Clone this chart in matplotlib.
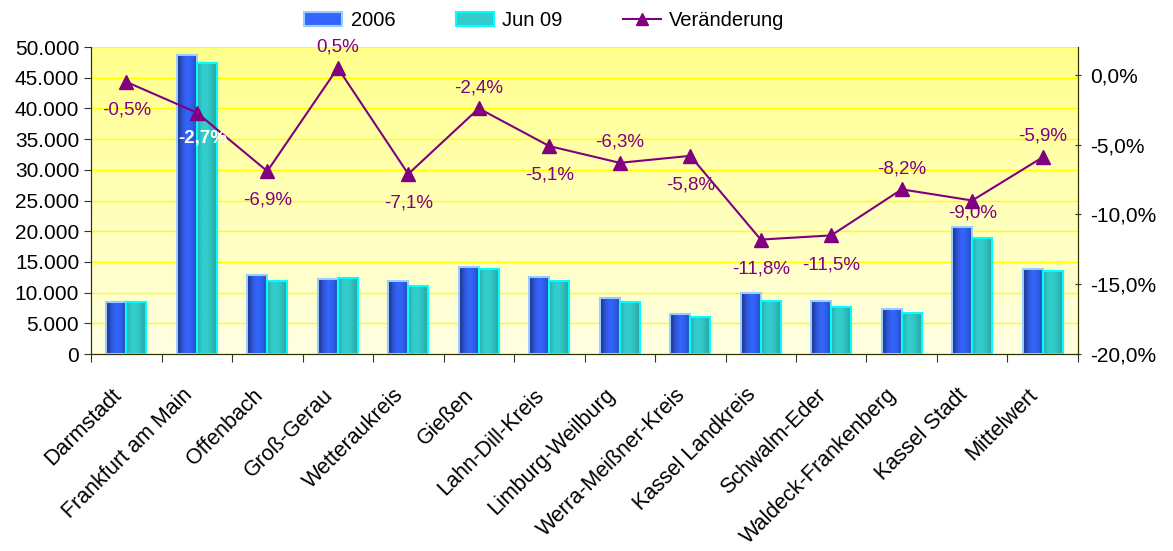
import matplotlib.pyplot as plt
from matplotlib.colors import LinearSegmentedColormap
from matplotlib.lines import Line2D
from matplotlib.patches import Patch
from matplotlib.ticker import FuncFormatter, FixedLocator, NullFormatter
import numpy as np

plt.rcParams['font.family'] = ['Liberation Sans', 'DejaVu Sans']

regions = ["Darmstadt", "Frankfurt am Main", "Offenbach", "Groß-Gerau",
           "Wetteraukreis", "Gießen", "Lahn-Dill-Kreis", "Limburg-Weilburg",
           "Werra-Meißner-Kreis", "Kassel Landkreis", "Schwalm-Eder",
           "Waldeck-Frankenberg", "Kassel Stadt", "Mittelwert"]
v2006 = [8450, 48700, 12800, 12250, 11900, 14200, 12500, 9070, 6460,
         9880, 8680, 7330, 20700, 13900]
vjun09 = [8410, 47380, 11920, 12310, 11060, 13860, 11860, 8500, 6090,
          8710, 7680, 6730, 18840, 13460]
change = [-0.5, -2.7, -6.9, 0.5, -7.1, -2.4, -5.1, -6.3, -5.8, -11.8,
          -11.5, -8.2, -9.0, -5.9]

# offset (points) of each percentage label relative to its marker
label_dx = [0, 4, 0, 0, 0, 0, 0, 0, 0, 0, 0, 0, 0, 0]
label_dy = [-20, -19, -21, 15, -21, 15, -21, 15, -21, -21, -21, 15, -9, 15]

PURPLE = "#800080"


def grad_bar(ax, x0, width, h, cmap, edge):
    """Bar with a horizontal colour gradient."""
    g = np.linspace(0, 1, 64).reshape(1, -1)
    ax.imshow(g, cmap=cmap, extent=(x0, x0 + width, 0, h), aspect='auto',
              zorder=2, interpolation='bilinear')
    ax.bar(x0, h, width=width, align='edge', facecolor='none',
           edgecolor=edge, linewidth=1.5, zorder=3)


def main():
    fig = plt.figure(figsize=(11.73, 5.51), dpi=100)
    ax = fig.add_axes([0.0776, 0.3575, 0.8414, 0.5572])
    ax2 = ax.twinx()

    # pale yellow background fading downwards
    bg = LinearSegmentedColormap.from_list("bg", ["#FFFFE2", "#FFFF8C"])
    ax.imshow(np.linspace(0, 1, 256).reshape(-1, 1), cmap=bg, origin='lower',
              extent=(0, 1, 0, 1), transform=ax.transAxes, aspect='auto',
              zorder=0)

    blue = LinearSegmentedColormap.from_list(
        "blue", ["#1A2E80", "#2E55D6", "#3366FF", "#2F5CE8", "#243F9E"])
    teal = LinearSegmentedColormap.from_list(
        "teal", ["#27A8A6", "#33CCCC", "#33CCCC", "#2EB8B6", "#279E9C"])

    x = np.arange(len(regions))
    w = 0.285
    for i in range(len(regions)):
        grad_bar(ax, x[i] - w, w, v2006[i], blue, "#99CCFF")
        grad_bar(ax, x[i], w, vjun09[i], teal, "#00FFFF")

    ax.set_xlim(-0.5, len(regions) - 0.5)
    ax.set_ylim(0, 50000)
    ax.set_yticks(np.arange(0, 50001, 5000))
    ax.yaxis.set_major_formatter(
        FuncFormatter(lambda v, p: f"{int(v):,}".replace(",", ".")))
    ax.grid(axis='y', color="#FFFF00", linewidth=1.0, zorder=1)
    ax.set_axisbelow(True)

    # ticks between categories, names written slanted below each pair
    ax.xaxis.set_major_locator(FixedLocator(np.arange(-0.5, len(regions), 1)))
    ax.xaxis.set_major_formatter(NullFormatter())
    ax.tick_params(axis='x', which='major', length=6, color="#333333")
    ax.tick_params(axis='y', labelsize=15, length=5, color="#333333")
    for xi, name in zip(x, regions):
        ax.annotate(name, (xi, 0), xycoords=('data', 'axes fraction'),
                    xytext=(-11, -22), textcoords='offset points',
                    ha='right', va='top', rotation=45,
                    rotation_mode='anchor', fontsize=15.5,
                    annotation_clip=False)

    ax2.plot(x, change, color=PURPLE, marker='^', markersize=10,
             linewidth=1.5, zorder=5)
    ax2.set_ylim(-20, 2)
    ax2.set_yticks(np.arange(-20, 0.1, 5))
    ax2.yaxis.set_major_formatter(
        FuncFormatter(lambda v, p: f"{v:.1f}%".replace(".", ",")))
    ax2.tick_params(axis='y', labelsize=15, length=5, direction='inout',
                    color="#333333", pad=6)

    for i, c in enumerate(change):
        txt = f"{c:.1f}%".replace(".", ",")
        kw = dict(color=PURPLE)
        if i == 1:
            kw = dict(color="white", fontweight='bold')
        ax2.annotate(txt, (x[i], c), xytext=(label_dx[i], label_dy[i]),
                     textcoords='offset points', ha='center', va='center',
                     fontsize=13.5, zorder=6, **kw)

    for a in (ax, ax2):
        for s in a.spines.values():
            s.set_color("#333300")
        a.spines['top'].set_visible(False)

    handles = [
        Patch(facecolor="#3366FF", edgecolor="#99CCFF", linewidth=1.5),
        Patch(facecolor="#33CCCC", edgecolor="#00FFFF", linewidth=1.5),
        Line2D([], [], color=PURPLE, marker='^', markersize=9, linewidth=1.5),
    ]
    fig.legend(handles, ["2006", "Jun 09", "Veränderung"], loc='center',
               bbox_to_anchor=(0.464, 0.962), ncol=3, frameon=False,
               fontsize=14.5, columnspacing=3.0, handlelength=1.9,
               handletextpad=0.4)

    fig.savefig("out.png", dpi=100)
    plt.close(fig)


if __name__ == "__main__":
    main()
